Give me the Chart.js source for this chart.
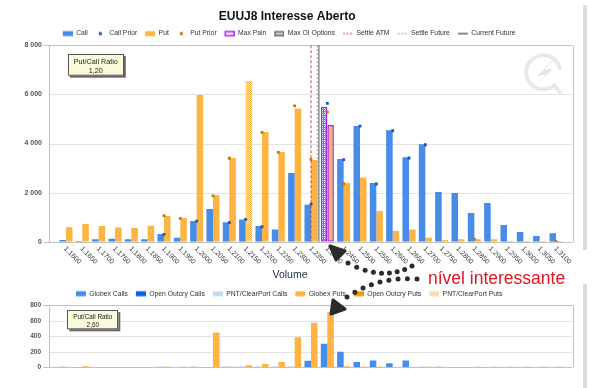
<!DOCTYPE html>
<html><head><meta charset="utf-8">
<script src="https://cdn.jsdelivr.net/npm/chart.js@4/dist/chart.umd.min.js"></script>
<style>
html,body{margin:0;padding:0;background:#fff;width:599px;height:388px;overflow:hidden;font-family:"Liberation Sans",Arial,sans-serif;}
.wrap{position:absolute;left:0;}
#strip1,#strip2{position:absolute;left:583px;width:4px;background:#dcdcdc;}
#note{position:absolute;left:428px;top:270px;font-size:17.5px;line-height:1;color:#e6141e;white-space:nowrap;font-family:"Liberation Sans",Arial,sans-serif;}
#ann{position:absolute;left:0;top:0;pointer-events:none;}
</style></head><body>
<div class="wrap" style="top:0;width:599px;height:284px"><canvas id="c1" width="599" height="284"></canvas></div>
<div class="wrap" style="top:284px;width:599px;height:104px"><canvas id="c2" width="599" height="104"></canvas></div>
<div id="strip1" style="top:5px;height:245px"></div>
<div id="strip2" style="top:284px;height:104px"></div>
<svg id="ann" width="599" height="388"></svg>
<div id="note">nível interessante</div>
<script>
// ---------------- DATA ----------------
const chartTitle = 'EUUJ8 Interesse Aberto';
const xAxisTitle = 'Volume';
const strikes = ['1,1600','1,1650','1,1700','1,1750','1,1800','1,1850','1,1900','1,1950','1,2000','1,2050','1,2100','1,2150','1,2200','1,2250','1,2300','1,2350','1,2400','1,2450','1,2500','1,2550','1,2600','1,2650','1,2700','1,2750','1,2800','1,2850','1,2900','1,2950','1,3000','1,3050','1,3100'];
const callOI   = [70,30,95,120,95,95,310,165,840,1330,790,900,640,500,2800,1510,5500,3370,4710,2390,4535,3435,3965,2025,1985,1170,1575,680,395,230,340];
const putOI    = [590,720,640,580,560,650,1045,965,5980,1900,3410,6550,4470,3650,5430,3330,4750,2390,2610,1250,435,500,165,70,95,95,95,30,30,30,25];
const callPrior= [null,null,null,null,null,null,300,null,840,null,775,910,610,null,null,1530,5635,3340,4710,2350,4520,3410,3950,null,null,null,null,null,null,null,null];
const putPrior = [null,null,null,null,null,null,1060,950,null,1870,3400,null,4450,3640,5530,3355,5280,2360,null,null,null,null,null,null,null,100,null,null,null,null,15];
const maxPainStrike = '1,2400';
const settleATM = 1.2350;
const settleFuture = 1.2369;
const currentFuture = 1.2374;
const putCallRatioOI = '1,20';
const putCallRatioVol = '2,60';
const yTicksOI = [0,2000,4000,6000,8000];

const globexCalls     = [null,null,null,null,null,null,null,null,null,null,null,null,null,null,null,83,305,202,67,87,51,87,null,null,null,null,null,null,null,null,null];
const openOutcryCalls = [null,null,null,null,null,null,null,null,null,null,null,null,null,null,null,null,null,null,null,null,null,null,null,null,null,null,null,null,null,null,null];
const pntCalls        = [15,null,null,null,null,null,15,null,15,null,15,15,15,15,15,null,null,null,null,null,null,null,12,12,null,null,null,null,null,null,null];
const globexPuts      = [null,15,null,null,null,null,null,null,null,450,null,28,44,67,388,574,709,12,null,null,null,null,null,null,null,null,null,null,null,null,null];
const openOutcryPuts  = [null,null,null,null,null,null,null,null,null,null,null,null,null,null,null,null,null,null,null,null,null,null,null,null,null,null,null,null,null,null,null];
const pntPuts         = [null,null,null,null,null,null,15,15,null,null,15,null,null,null,null,null,null,null,12,12,null,null,12,null,null,12,12,12,12,12,12];
const yTicksVol = [0,200,400,600,800];

// ---------------- STYLE ----------------
const FONT = '"Liberation Sans", Arial, sans-serif';
const C_CALL = '#468ce8', C_PUT = '#fdb442', C_PAIN = '#a61ff0';
const C_CPRI = '#1557c8', C_PPRI = '#c8740f';
const C_OOC = '#0b5fe0', C_PNTC = '#c6d9f2', C_OOP = '#f39800', C_PNTP = '#f9dcb2';
const EXT = 8.5;

const strikeNums = strikes.map(s => parseFloat(s.replace(',', '.')));
function strikeToIndex(v){
  for (let i=0;i<strikeNums.length-1;i++){
    if (v>=strikeNums[i] && v<=strikeNums[i+1]) return i + (v-strikeNums[i])/(strikeNums[i+1]-strikeNums[i]);
  }
  return NaN;
}
const argmax = a => a.reduce((bi,v,i)=> v>a[bi]?i:bi, 0);
const maxOICall = argmax(callOI), maxOIPut = argmax(putOI);
const painIdx = strikes.indexOf(maxPainStrike);
const fmt = v => String(v).replace(/\B(?=(\d{3})+(?!\d))/g,' ');

const ctx1 = document.getElementById('c1').getContext('2d');
function xPattern(color){
  const c=document.createElement('canvas'); c.width=4; c.height=4;
  const g=c.getContext('2d'); g.fillStyle=color; g.fillRect(0,0,4,4);
  g.fillStyle='rgba(255,255,255,0.8)';
  [[0,0],[2,0],[1,1],[0,2],[2,2]].forEach(([x,y])=>g.fillRect(x,y,1,1));
  return ctx1.createPattern(c,'repeat');
}
function checkPattern(color, light){
  const c=document.createElement('canvas'); c.width=2; c.height=2;
  const g=c.getContext('2d'); g.fillStyle=color; g.fillRect(0,0,2,2);
  g.fillStyle=light; g.fillRect(1,0,1,1); g.fillRect(0,1,1,1);
  return ctx1.createPattern(c,'repeat');
}
const callPat = xPattern(C_CALL), putPat = checkPattern(C_PUT,'#ffe7bd');

const IW = 14, IX = 4;
function icon(draw){ const c=document.createElement('canvas'); c.width=IW; c.height=8; const g=c.getContext('2d'); draw(g); return c; }
const boxIcon = (fill, stroke, lw) => icon(g => { g.fillStyle=fill; g.fillRect(IX,1.5,10,5); if(stroke){ g.strokeStyle=stroke; g.lineWidth=lw; g.strokeRect(IX+0.5,2,9,4);} });
const dotIcon = col => icon(g => { g.fillStyle=col; g.fillRect(IX+3,2.5,3,3); });
const lineIcon = (col, dash, lw) => icon(g => { g.strokeStyle=col; g.lineWidth=lw; g.setLineDash(dash); g.beginPath(); g.moveTo(IX,4); g.lineTo(IX+10,4); g.stroke(); });
const checkIcon = icon(g => {
  g.fillStyle='#fff'; g.fillRect(IX,1.5,10,5);
  g.fillStyle='#888'; for(let x=IX;x<IX+10;x++) for(let y=2;y<7;y++) if((x+y)%2===0) g.fillRect(x,y,1,1);
  g.strokeStyle='#444'; g.lineWidth=1; g.strokeRect(IX+0.5,2,9,4);
});

const legend1 = [
  ['Call', boxIcon(C_CALL)], ['Call Prior', dotIcon(C_CPRI)], ['Put', boxIcon(C_PUT)], ['Put Prior', dotIcon(C_PPRI)],
  ['Max Pain', boxIcon('#fff', C_PAIN, 1.5)], ['Max OI Options', checkIcon],
  ['Settle ATM', lineIcon('#e8383d',[2,1.5],1)], ['Settle Future', lineIcon('#999',[2,1.5],1)], ['Current Future', lineIcon('#8a8a8a',[],2)]
];
const legend2 = [
  ['Globex Calls', boxIcon(C_CALL)], ['Open Outcry Calls', boxIcon(C_OOC)], ['PNT/ClearPort Calls', boxIcon(C_PNTC)],
  ['Globex Puts', boxIcon(C_PUT)], ['Open Outcry Puts', boxIcon(C_OOP)], ['PNT/ClearPort Puts', boxIcon(C_PNTP)]
];
const mkLabels = list => () => list.map(([t,ic]) => ({text:t, pointStyle:ic, fillStyle:'rgba(0,0,0,0)', strokeStyle:'rgba(0,0,0,0)', lineWidth:0, hidden:false, fontColor:'#333'}));
const legendOpts = (list, maxH) => ({ display:true, position:'top', maxHeight:maxH, onClick:()=>{},
  labels:{ usePointStyle:true, pointStyleWidth:IW, padding:4, font:{family:FONT,size:6.8}, color:'#333', generateLabels: mkLabels(list) } });

function line(ctx,x1,y1,x2,y2){ ctx.beginPath(); ctx.moveTo(x1,y1); ctx.lineTo(x2,y2); ctx.stroke(); }
function drawFrame(chart){
  const {ctx, chartArea:a, scales:{y}} = chart;
  const L = a.left-EXT, R = a.right+EXT;
  ctx.save(); ctx.lineWidth=1;
  y.ticks.forEach(t => {
    if (t.value===y.min || t.value===y.max) return;
    const py = Math.round(y.getPixelForValue(t.value))+0.5;
    ctx.strokeStyle='#e4e4e4'; line(ctx,L,py,R,py);
  });
  ctx.strokeStyle='#c2c2c2';
  const top=Math.round(a.top)+0.5, bot=Math.round(a.bottom)+0.5;
  line(ctx,L-6,top,R,top); line(ctx,L-6,bot,R,bot);
  line(ctx,Math.round(L)+0.5,top,Math.round(L)+0.5,bot);
  line(ctx,Math.round(R)+0.5,top,Math.round(R)+0.5,bot);
  ctx.restore();
}
function ratioBox(ctx,x,y,w,h,l1,l2,fs,f1,f2){
  ctx.save();
  ctx.fillStyle='rgba(40,40,40,0.7)'; ctx.fillRect(x+2,y+2,w,h);
  ctx.fillStyle='#fbfbdc'; ctx.fillRect(x,y,w,h);
  ctx.strokeStyle='#555'; ctx.lineWidth=1; ctx.strokeRect(Math.round(x)+0.5,Math.round(y)+0.5,w-1,h-1);
  ctx.fillStyle='#222'; ctx.font=fs+'px '+FONT; ctx.textAlign='center'; ctx.textBaseline='middle';
  ctx.fillText(l1,x+w/2,y+h*f1); ctx.fillText(l2,x+w/2,y+h*f2);
  ctx.restore();
}

const plug1 = {
  id:'deco1',
  beforeDatasetsDraw(chart){
    const {ctx, chartArea:a} = chart;
    ctx.save();
    const cx=a.right-21, cy=a.top+27;
    ctx.strokeStyle='#e6eaee'; ctx.lineWidth=4;
    ctx.beginPath(); ctx.arc(cx,cy,17,0.25*Math.PI,1.95*Math.PI); ctx.stroke();
    ctx.beginPath(); ctx.moveTo(cx+10,cy+12); ctx.lineTo(cx+18,cy+22); ctx.stroke();
    ctx.fillStyle='#e2e6ea';
    ctx.beginPath(); ctx.moveTo(cx+20,cy-24); ctx.lineTo(cx-6,cy+4); ctx.lineTo(cx+3,cy+2); ctx.lineTo(cx-18,cy+24); ctx.lineTo(cx+10,cy-4); ctx.lineTo(cx+1,cy-2); ctx.closePath(); ctx.fill();
    ctx.restore();
    drawFrame(chart);
  },
  afterDatasetsDraw(chart){
    const {ctx, chartArea:a, scales:{x}} = chart;
    const vl = (v,col,dash,lw) => { const px=x.getPixelForValue(strikeToIndex(v)); ctx.save(); ctx.strokeStyle=col; ctx.lineWidth=lw; ctx.setLineDash(dash); line(ctx,px,a.top,px,a.bottom); ctx.restore(); };
    vl(settleATM,'#e8383d',[3,2],1);
    vl(settleFuture,'#a0a0a0',[2,2],1);
    vl(currentFuture,'#8c8c8c',[],1.5);
  },
  afterDraw(chart){
    const {ctx, chartArea:a, scales:{x}} = chart;
    ctx.save();
    ctx.fillStyle='#363646'; ctx.font='7px '+FONT; ctx.textAlign='left'; ctx.textBaseline='middle';
    strikes.forEach((s,i) => {
      const px = x.getPixelForValue(i);
      ctx.save(); ctx.translate(px-1, a.bottom+6); ctx.rotate(Math.PI/4); ctx.fillText(s,0,0); ctx.restore();
    });
    ctx.fillStyle='#1c2b4a'; ctx.font='10.5px '+FONT; ctx.textAlign='center';
    ctx.fillText(xAxisTitle, 290, a.bottom+33.5);
    ctx.restore();
    ratioBox(ctx, a.left+10, a.top+8.7, 56, 21.7, 'Put/Call Ratio', putCallRatioOI, 7.2, 0.37, 0.78);
  }
};
const plug2 = {
  id:'deco2',
  beforeDatasetsDraw(chart){ drawFrame(chart); },
  afterDraw(chart){
    const {ctx, chartArea:a} = chart;
    ratioBox(ctx, a.left+9.5, a.top+4.7, 51, 19.3, 'Put/Call Ratio', putCallRatioVol, 6.4, 0.40, 0.78);
  }
};

const callBg = callOI.map((v,i)=> i===maxOICall ? callPat : C_CALL);
const putBg  = putOI.map((v,i)=> i===maxOIPut ? putPat : C_PUT);
const painBorder = strikes.map((s,i)=> i===painIdx ? C_PAIN : 'rgba(0,0,0,0)');
const painWidth  = strikes.map((s,i)=> i===painIdx ? 1.5 : 0);

new Chart(ctx1, {
  type:'bar',
  data:{ labels: strikes, datasets:[
    {type:'line', label:'Call Prior', data:callPrior, showLine:false, pointStyle:'rect', pointRadius:2, pointBackgroundColor:C_CPRI, pointBorderWidth:0, order:0},
    {type:'line', label:'Put Prior', data:putPrior, showLine:false, pointStyle:'rect', pointRadius:2, pointBackgroundColor:C_PPRI, pointBorderWidth:0, order:0},
    {label:'Call', data:callOI, backgroundColor:callBg, borderColor:painBorder, borderWidth:painWidth, borderSkipped:false, categoryPercentage:0.8, barPercentage:1, order:1},
    {label:'Put', data:putOI, backgroundColor:putBg, borderColor:painBorder, borderWidth:painWidth, borderSkipped:false, categoryPercentage:0.8, barPercentage:1, order:1}
  ]},
  options:{
    responsive:false, animation:false, events:[],
    layout:{padding:{left:10,right:34.8,top:0,bottom:0}},
    plugins:{
      title:{display:true, text:chartTitle, color:'#111', font:{family:FONT,size:12,weight:'bold',lineHeight:1}, padding:{top:11,bottom:3.2}},
      legend: legendOpts(legend1, 19.1),
      tooltip:{enabled:false}
    },
    scales:{
      x:{grid:{display:false}, border:{display:false}, ticks:{display:false}, afterFit:s=>{s.height=42.3;}},
      y:{min:yTicksOI[0], max:yTicksOI[yTicksOI.length-1], grid:{display:false,drawTicks:false}, border:{display:false},
         ticks:{stepSize:yTicksOI[1]-yTicksOI[0], padding:15.8, color:'#555', font:{family:FONT,size:7,weight:'bold'}, callback:v=>fmt(v)},
         afterFit:s=>{s.width=47.8;}}
    }
  },
  plugins:[plug1]
});

const mkBar = (label,data,color,stack) => ({label, data, backgroundColor:color, stack, categoryPercentage:0.8, barPercentage:1, borderWidth:0});
new Chart(document.getElementById('c2').getContext('2d'), {
  type:'bar',
  data:{ labels: strikes, datasets:[
    mkBar('Globex Calls', globexCalls, C_CALL, 'calls'),
    mkBar('Open Outcry Calls', openOutcryCalls, C_OOC, 'calls'),
    mkBar('PNT/ClearPort Calls', pntCalls, C_PNTC, 'calls'),
    mkBar('Globex Puts', globexPuts, C_PUT, 'puts'),
    mkBar('Open Outcry Puts', openOutcryPuts, C_OOP, 'puts'),
    mkBar('PNT/ClearPort Puts', pntPuts, C_PNTP, 'puts')
  ]},
  options:{
    responsive:false, animation:false, events:[],
    layout:{padding:{left:10,right:34.8,top:2.3,bottom:0}},
    plugins:{ legend: legendOpts(legend2, 19), title:{display:false}, tooltip:{enabled:false} },
    scales:{
      x:{stacked:true, grid:{display:false}, border:{display:false}, ticks:{display:false}, afterFit:s=>{s.height=15.7;}},
      y:{stacked:true, min:yTicksVol[0], max:yTicksVol[yTicksVol.length-1], grid:{display:false,drawTicks:false}, border:{display:false},
         ticks:{stepSize:yTicksVol[1]-yTicksVol[0], padding:16.8, color:'#555', font:{family:FONT,size:6.5,weight:'bold'}},
         afterFit:s=>{s.width=47.8;}}
    }
  },
  plugins:[plug2]
});

// ---------------- annotation (dotted arrows) ----------------
(function(){
  const svg = document.getElementById('ann'); const NS='http://www.w3.org/2000/svg';
  const dots = (p0,c,p2,n) => { for(let k=0;k<n;k++){ const t=k/(n-1);
      const x=(1-t)*(1-t)*p0[0]+2*(1-t)*t*c[0]+t*t*p2[0], y=(1-t)*(1-t)*p0[1]+2*(1-t)*t*c[1]+t*t*p2[1];
      const e=document.createElementNS(NS,'circle'); e.setAttribute('cx',x); e.setAttribute('cy',y); e.setAttribute('r',2.5); e.setAttribute('fill','#2b2b2b'); svg.appendChild(e); } };
  dots([348,263],[383,282],[412,266],9);
  dots([417,279],[378,276],[347,297],9);
  const poly = pts => { const e=document.createElementNS(NS,'polygon'); e.setAttribute('points',pts); e.setAttribute('fill','#2b2b2b'); e.setAttribute('stroke','#2b2b2b'); e.setAttribute('stroke-width','3'); e.setAttribute('stroke-linejoin','round'); svg.appendChild(e); };
  poly('330,246 345,251 336,260');
  poly('331,314 333,300 345,309');
})();
</script>
</body></html>
